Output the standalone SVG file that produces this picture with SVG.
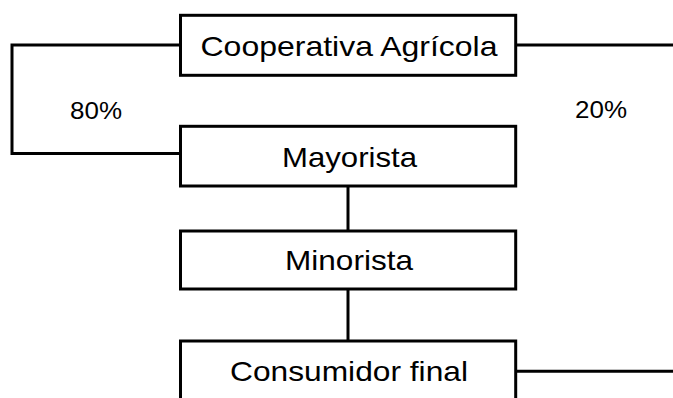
<svg xmlns="http://www.w3.org/2000/svg" width="673" height="398" viewBox="0 0 673 398">
<style>
.box{fill:#fff;stroke:#000;stroke-width:3}
.conn{fill:none;stroke:#000;stroke-width:3}
.lbl{font-family:"Liberation Sans",Arial,sans-serif;font-size:28px;fill:#000;text-anchor:middle}
.pct{font-family:"Liberation Sans",Arial,sans-serif;font-size:24px;fill:#000;text-anchor:middle}
</style>
<rect width="673" height="398" fill="#fff"/>
<g id="connectors">
<polyline class="conn" points="180.5,45 12,45 12,153.5 180.5,153.5"/>
<line class="conn" x1="515.7" y1="45" x2="673" y2="45" stroke-width="2.5"/>
<line class="conn" x1="348" y1="186" x2="348" y2="231"/>
<line class="conn" x1="348" y1="289" x2="348" y2="341"/>
<line class="conn" x1="515.7" y1="371.3" x2="673" y2="371.3"/>
</g>
<g id="cooperativa">
<rect class="box" x="180.5" y="15.3" width="335.2" height="60"/>
<text class="lbl" x="349" y="55.5" textLength="297" lengthAdjust="spacingAndGlyphs">Cooperativa Agrícola</text>
</g>
<g id="mayorista">
<rect class="box" x="180.5" y="126.3" width="335.2" height="59.7"/>
<text class="lbl" x="349.5" y="166.5" textLength="135" lengthAdjust="spacingAndGlyphs">Mayorista</text>
</g>
<g id="minorista">
<rect class="box" x="180.5" y="231" width="335.2" height="58"/>
<text class="lbl" x="349" y="270" textLength="128" lengthAdjust="spacingAndGlyphs">Minorista</text>
</g>
<g id="consumidor">
<rect class="box" x="180.5" y="341" width="335.2" height="80"/>
<text class="lbl" x="349" y="381" textLength="238" lengthAdjust="spacingAndGlyphs">Consumidor final</text>
</g>
<g id="labels">
<text class="pct" x="96" y="119" textLength="52" lengthAdjust="spacingAndGlyphs">80%</text>
<text class="pct" x="601" y="118" textLength="52" lengthAdjust="spacingAndGlyphs">20%</text>
</g>
</svg>
